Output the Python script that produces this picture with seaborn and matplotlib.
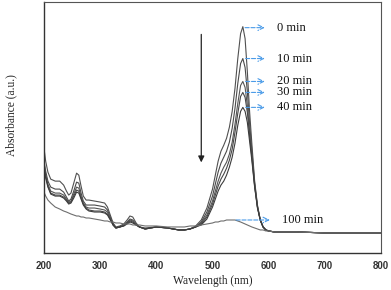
import pandas as pd
import matplotlib
matplotlib.use("Agg")
import matplotlib.pyplot as plt
import seaborn as sns

# wavelength grid (nm) and absorbance (a.u.)
wl = [200, 203, 207, 212, 220, 228, 235, 240, 244, 248, 253, 258, 262, 266, 270, 275,
      280, 290, 300, 308, 313, 318, 323, 328, 335, 342, 348, 353, 358, 364, 370, 380,
      400, 420, 440, 450, 460, 470, 480, 490, 500, 505, 510, 515, 520, 525, 530, 535,
      540, 545, 550, 554, 558, 562, 566, 570, 575, 580, 585, 590, 595, 600, 610, 650,
      700, 800]

a0 = [1.05, 0.92, 0.81, 0.74, 0.72, 0.72, 0.68, 0.62, 0.58, 0.60, 0.70, 0.80, 0.78, 0.67, 0.57, 0.53,
      0.53, 0.52, 0.51, 0.50, 0.46, 0.38, 0.30, 0.26, 0.27, 0.29, 0.33, 0.37, 0.36, 0.30, 0.26, 0.25,
      0.26, 0.25, 0.23, 0.23, 0.24, 0.27, 0.33, 0.45, 0.64, 0.78, 0.92, 1.02, 1.08, 1.15, 1.26, 1.42,
      1.65, 1.95, 2.20, 2.27, 2.15, 1.82, 1.42, 1.10, 0.72, 0.48, 0.33, 0.26, 0.23, 0.22, 0.21, 0.21,
      0.20, 0.20]
a10 = [0.92, 0.82, 0.72, 0.66, 0.64, 0.64, 0.61, 0.56, 0.52, 0.54, 0.62, 0.71, 0.70, 0.60, 0.52, 0.48,
       0.48, 0.48, 0.47, 0.46, 0.43, 0.36, 0.29, 0.25, 0.26, 0.28, 0.31, 0.34, 0.33, 0.29, 0.26, 0.24,
       0.26, 0.25, 0.23, 0.23, 0.24, 0.26, 0.31, 0.41, 0.57, 0.69, 0.81, 0.90, 0.96, 1.02, 1.11, 1.25,
       1.45, 1.70, 1.90, 1.95, 1.86, 1.62, 1.30, 1.03, 0.70, 0.47, 0.33, 0.26, 0.23, 0.22, 0.21, 0.21,
       0.20, 0.20]
a20 = [0.90, 0.79, 0.69, 0.62, 0.60, 0.60, 0.58, 0.54, 0.51, 0.52, 0.59, 0.66, 0.65, 0.57, 0.50, 0.46,
       0.45, 0.45, 0.44, 0.43, 0.41, 0.35, 0.28, 0.25, 0.26, 0.28, 0.30, 0.33, 0.32, 0.28, 0.26, 0.24,
       0.26, 0.25, 0.23, 0.23, 0.24, 0.26, 0.30, 0.38, 0.52, 0.62, 0.72, 0.80, 0.86, 0.91, 0.99, 1.11,
       1.29, 1.50, 1.68, 1.72, 1.66, 1.48, 1.22, 0.98, 0.68, 0.46, 0.33, 0.26, 0.23, 0.22, 0.21, 0.21,
       0.20, 0.20]
a30 = [0.88, 0.77, 0.67, 0.60, 0.58, 0.58, 0.56, 0.53, 0.50, 0.51, 0.57, 0.63, 0.62, 0.55, 0.49, 0.45,
       0.43, 0.42, 0.42, 0.41, 0.39, 0.34, 0.28, 0.25, 0.26, 0.27, 0.30, 0.32, 0.31, 0.28, 0.26, 0.24,
       0.26, 0.25, 0.23, 0.23, 0.24, 0.26, 0.29, 0.36, 0.49, 0.58, 0.67, 0.74, 0.79, 0.85, 0.93, 1.04,
       1.21, 1.40, 1.57, 1.61, 1.56, 1.41, 1.18, 0.96, 0.67, 0.46, 0.33, 0.26, 0.23, 0.22, 0.21, 0.21,
       0.20, 0.20]
a40 = [0.86, 0.75, 0.66, 0.59, 0.57, 0.57, 0.55, 0.52, 0.49, 0.50, 0.55, 0.61, 0.60, 0.54, 0.48, 0.44,
       0.42, 0.41, 0.41, 0.40, 0.38, 0.33, 0.28, 0.25, 0.26, 0.27, 0.29, 0.31, 0.30, 0.28, 0.26, 0.24,
       0.26, 0.25, 0.23, 0.23, 0.24, 0.26, 0.28, 0.34, 0.46, 0.54, 0.62, 0.68, 0.72, 0.78, 0.86, 0.96,
       1.10, 1.28, 1.42, 1.46, 1.42, 1.31, 1.12, 0.93, 0.66, 0.45, 0.33, 0.26, 0.23, 0.22, 0.21, 0.21,
       0.20, 0.20]
a100 = [0.61, 0.57, 0.53, 0.50, 0.46, 0.44, 0.42, 0.41, 0.40, 0.39, 0.38, 0.37, 0.37, 0.36, 0.36, 0.35,
        0.35, 0.34, 0.33, 0.32, 0.32, 0.31, 0.31, 0.30, 0.30, 0.29, 0.29, 0.29, 0.28, 0.28, 0.28, 0.27,
        0.27, 0.26, 0.26, 0.26, 0.27, 0.27, 0.28, 0.29, 0.30, 0.31, 0.31, 0.32, 0.32, 0.33, 0.33, 0.33,
        0.33, 0.32, 0.31, 0.30, 0.29, 0.28, 0.27, 0.26, 0.25, 0.24, 0.23, 0.23, 0.22, 0.22, 0.21, 0.21,
        0.20, 0.20]

labels = ["0 min", "10 min", "20 min", "30 min", "40 min", "100 min"]
series = [a0, a10, a20, a30, a40, a100]
colors = ["#505050", "#4a4a4a", "#555555", "#474747", "#3c3c3c", "#6e6e6e"]

# where each label's arrow starts (peak), in data units
arrow_x = [553, 554, 554, 554, 554, 537]
arrow_y = [2.26, 1.95, 1.72, 1.61, 1.46, 0.33]
text_x = [615, 615, 615, 615, 615, 624]

rows = []
for lab, vals in zip(labels, series):
    for x, y in zip(wl, vals):
        rows.append({"Wavelength": x, "Absorbance": y, "time": lab})
df = pd.DataFrame(rows)

sns.set_style("white")
fig = plt.figure(figsize=(3.91, 2.90), dpi=100)
ax = fig.add_axes([0.1125, 0.128, 0.862, 0.866])

sns.lineplot(data=df, x="Wavelength", y="Absorbance", hue="time", palette=colors,
             linewidth=0.8, legend=False, ax=ax, sort=False)

ax.set_xlim(200, 800)
ax.set_ylim(0, 2.52)
ax.set_xticks([200, 300, 400, 500, 600, 700, 800])
ax.set_xticks([250, 350, 450, 550, 650, 750], minor=True)
ax.set_yticks([])
ax.tick_params(axis="x", which="major", direction="in", length=3, width=0.8, colors="#333333",
               labelsize=7, pad=5.5)
ax.tick_params(axis="x", which="minor", direction="in", length=2, width=0.6, colors="#333333")
for t in ax.get_xticklabels():
    t.set_fontfamily("Liberation Sans")
    t.set_fontweight("bold")
    t.set_color("#333333")

for side in ["left", "bottom"]:
    ax.spines[side].set_color("#333333")
    ax.spines[side].set_linewidth(1.0)
for side in ["top", "right"]:
    ax.spines[side].set_color("#555555")
    ax.spines[side].set_linewidth(0.8)

ax.set_xlabel("Wavelength (nm)", fontfamily="Liberation Serif", fontsize=8.3, color="#222222")
ax.set_ylabel("Absorbance (a.u.)", fontfamily="Liberation Serif", fontsize=8.3, color="#222222")
ax.xaxis.set_label_coords(0.5, -0.09)
ax.yaxis.set_label_coords(-0.08, 0.55)

# blue dashed arrows to the time labels
for lab, x0, y0, tx in zip(labels, arrow_x, arrow_y, text_x):
    ax.annotate("", xy=(tx - 17, y0), xytext=(x0, y0),
                arrowprops=dict(arrowstyle="->", color="#4a9be8", linestyle="--", lw=0.8))
    ax.text(tx, y0, lab, fontfamily="Liberation Serif", fontsize=9, va="center", ha="left", color="#111111")

# decreasing trend arrow
ax.annotate("", xy=(480, 0.88), xytext=(480, 2.22),
            arrowprops=dict(arrowstyle="-|>", color="#222222", lw=0.9, mutation_scale=9))

fig.savefig("out.png", dpi=100)
